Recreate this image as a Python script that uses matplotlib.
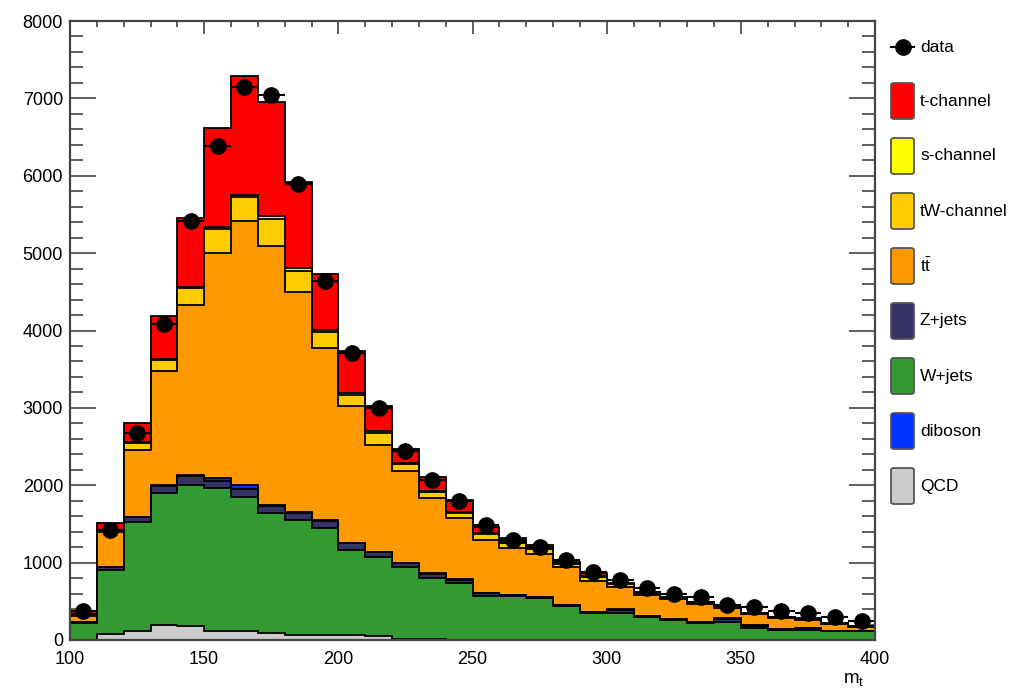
import numpy as np
import matplotlib.pyplot as plt
from matplotlib.patches import FancyBboxPatch
from matplotlib.lines import Line2D

plt.rcParams['font.family'] = ['Liberation Sans', 'DejaVu Sans']
plt.rcParams['mathtext.fontset'] = 'custom'
plt.rcParams['mathtext.rm'] = 'Liberation Sans'
plt.rcParams['mathtext.it'] = 'Liberation Sans:italic'

# bin edges of the m_t histogram
edges = np.arange(100, 401, 10)

# stacked MC components (events per bin), bottom to top
qcd = [0, 75, 110, 195, 175, 110, 110, 85, 70, 70, 70, 55, 10, 10, 5,
       0, 0, 0, 0, 0, 0, 0, 0, 0, 0, 0, 0, 0, 0, 0]
wjets = [220, 825, 1420, 1703, 1831, 1855, 1744, 1554, 1483, 1375, 1095, 1023, 938, 788, 728,
         569, 570, 545, 440, 352, 345, 300, 255, 222, 237, 160, 135, 130, 115, 112]
zjets = [15, 43, 55, 95, 110, 85, 100, 95, 88, 98, 85, 58, 45, 58, 45,
         38, 10, 12, 10, 5, 45, 8, 8, 3, 35, 25, 5, 22, 3, 2]
diboson = [0, 5, 9, 13, 19, 40, 45, 13, 11, 10, 9, 7, 7, 7, 7,
           5, 2, 3, 2, 2, 7, 2, 2, 2, 8, 5, 2, 5, 2, 1]
ttbar = [80, 453, 864, 1472, 2189, 2910, 3412, 3350, 2841, 2215, 1760, 1380, 1178, 971, 790,
         682, 604, 553, 486, 406, 293, 270, 260, 240, 130, 145, 140, 105, 92, 55]
tw = [20, 20, 87, 140, 220, 310, 310, 350, 280, 215, 150, 150, 95, 85, 72,
      72, 70, 65, 45, 55, 30, 30, 20, 15, 12, 10, 8, 8, 6, 4]
schan = [5, 5, 12, 15, 21, 28, 30, 36, 34, 27, 23, 22, 14, 13, 13,
         14, 12, 13, 10, 10, 5, 5, 5, 4, 3, 3, 3, 3, 2, 2]
tchan = [30, 85, 250, 560, 895, 1280, 1543, 1474, 1111, 724, 539, 333, 180, 181, 152,
         86, 44, 38, 20, 33, 8, 10, 10, 10, 6, 7, 7, 7, 5, 4]
data = [375, 1420, 2680, 4080, 5410, 6390, 7150, 7050, 5890, 4640, 3710, 3000, 2440, 2070, 1790,
        1490, 1295, 1205, 1035, 885, 775, 670, 595, 560, 450, 425, 375, 345, 300, 245]

colors = {'t-channel': '#ff0000', 's-channel': '#ffff00', 'tW-channel': '#ffcc00',
          'ttbar': '#ff9900', 'Z+jets': '#333366', 'W+jets': '#339933',
          'diboson': '#0033ff', 'QCD': '#cccccc'}

# stacking order, bottom to top
stack = [('QCD', qcd), ('W+jets', wjets), ('Z+jets', zjets), ('diboson', diboson),
         ('ttbar', ttbar), ('tW-channel', tw), ('s-channel', schan), ('t-channel', tchan)]
legend_order = ['t-channel', 's-channel', 'tW-channel', 'ttbar', 'Z+jets', 'W+jets', 'diboson', 'QCD']
legend_text = {'ttbar': r'$\mathrm{t\bar{t}}$'}

fig = plt.figure(figsize=(10.18, 6.89), dpi=100)
ax = fig.add_axes([70 / 1018, 1 - 640 / 689, 805 / 1018, 619 / 689])

cum = np.cumsum([np.array(v, dtype=float) for _, v in stack], axis=0)
# draw from the top of the stack down so each layer covers the one above
for i in range(len(stack) - 1, -1, -1):
    ax.stairs(cum[i], edges, baseline=0, fill=True, facecolor=colors[stack[i][0]],
              edgecolor='black', linewidth=1.3, zorder=2)

centers = 0.5 * (edges[:-1] + edges[1:])
data = np.array(data, dtype=float)
ax.errorbar(centers, data, xerr=5, yerr=np.sqrt(data), fmt='o', color='black',
            ms=11, elinewidth=1.5, capsize=0, zorder=5)

ax.set_xlim(100, 400)
ax.set_ylim(0, 8000)
ax.set_xticks(np.arange(100, 401, 50))
ax.set_xticks(np.arange(100, 401, 10), minor=True)
ax.set_yticks(np.arange(0, 8001, 1000))
ax.set_yticks(np.arange(0, 8001, 200), minor=True)
ax.tick_params(axis='both', which='both', direction='in', top=True, right=True,
               labelsize=13, width=1.1, color='#333333')
ax.tick_params(axis='y', which='major', length=19, pad=5)
ax.tick_params(axis='y', which='minor', length=9.5)
ax.tick_params(axis='x', which='major', length=9.5, pad=8)
ax.tick_params(axis='x', which='minor', length=4.5)
for s in ax.spines.values():
    s.set_linewidth(1.6)
    s.set_color('#444444')
    s.set_zorder(6)

fig.text(843 / 1018, 1 - 680 / 689, r'm$_\mathrm{t}$', fontsize=13.5, va='center', ha='left')

# legend on the right
fig.add_artist(Line2D([891 / 1018, 914 / 1018], [1 - 47 / 689] * 2, color='black', lw=1.5))
fig.add_artist(Line2D([902.5 / 1018], [1 - 47 / 689], marker='o', ms=11, color='black'))
fig.text(920 / 1018, 1 - 47 / 689, 'data', fontsize=12.5, va='center', ha='left')
for k, name in enumerate(legend_order):
    yc = 101 + 55 * k
    fig.add_artist(FancyBboxPatch((891 / 1018, 1 - (yc + 18) / 689), 23 / 1018, 36 / 689,
                                  boxstyle='round,pad=0,rounding_size=0.003',
                                  transform=fig.transFigure, facecolor=colors[name],
                                  edgecolor='#555555', linewidth=1.3))
    fig.text(920 / 1018, 1 - yc / 689, legend_text.get(name, name), fontsize=12.5,
             va='center', ha='left')

fig.savefig('out.png', dpi=100)
